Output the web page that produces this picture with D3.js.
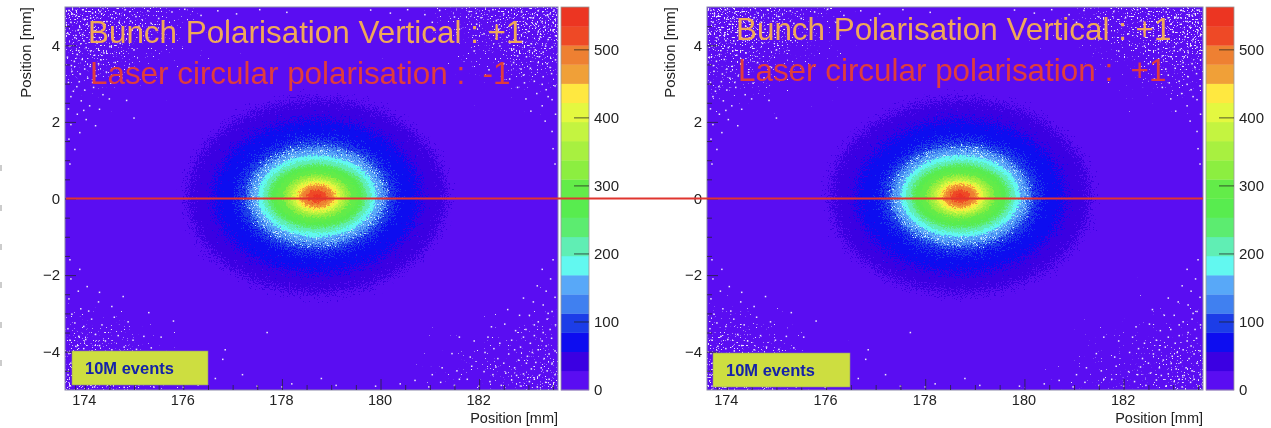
<!DOCTYPE html>
<html><head><meta charset="utf-8">
<script src="https://cdnjs.cloudflare.com/ajax/libs/d3/7.8.5/d3.min.js"></script>
<style>html,body{margin:0;padding:0;background:#fff}svg{display:block}text{font-family:"Liberation Sans",Arial,sans-serif}</style>
</head><body><svg id="c" width="1271" height="428"></svg>
<script>
const xDomain = [173.6, 183.6], yDomain = [-5, 5], zDomain = [0, 563];
const xMajor = [174, 176, 178, 180, 182];
const xMinor = [174.5,175,175.5,176.5,177,177.5,178.5,179,179.5,180.5,181,181.5,182.5,183,183.5,173.8];
const yMajor = [-4, -2, 0, 2, 4];
const yMinor = [-4.5,-3.5,-3,-2.5,-1.5,-1,-0.5,0.5,1,1.5,2.5,3,3.5,4.5];
const zMajor = [0, 100, 200, 300, 400, 500];
const bandColors = ["#5A10F2","#3A02E2","#0A08F0","#1A3CE8","#3F80F0","#58A8F8","#62F8F0","#60EEB4","#5CEC70","#58EC50","#64EC48","#8CEE40","#A8F040","#C4F440","#E4F840","#FFE840","#F0A038","#EE8030","#EE4A28","#EC3420"];
const centerX = 178.71, centerY = 0.06;
const profileValues = [42,70,99,127,155,183,211,239,267,295,324,352,380,408,436,464,492,520,549];
const profileA = [2.62,2.1,1.6,1.42,1.32,1.2,1.1,1.0,0.93,0.82,0.68,0.6,0.53,0.47,0.41,0.36,0.3,0.2,0.08];
const profileB = [2.52,2.0,1.5,1.32,1.19,1.07,0.96,0.85,0.78,0.68,0.57,0.5,0.45,0.4,0.36,0.31,0.26,0.17,0.06];
const specksTL = [[173.68,4.91],[173.83,4.78],[173.97,4.93],[174.12,4.71],[174.31,4.88],[174.45,4.62],[174.63,4.84],[174.82,4.93],[175.04,4.75],[175.28,4.9],[175.5,4.7],[175.77,4.87],[176.03,4.94],[176.36,4.78],[176.7,4.9],[177.08,4.82],[177.55,4.93],[178.1,4.86],[173.72,4.6],[173.9,4.47],[174.05,4.55],[174.22,4.38],[174.38,4.5],[174.58,4.29],[174.77,4.42],[175.1,4.5],[173.66,4.31],[173.8,4.2],[173.96,4.28],[174.14,4.11],[174.3,4.2],[174.51,3.97],[174.72,4.05],[175.0,3.88],[173.7,3.98],[173.88,3.86],[174.03,3.94],[174.2,3.74],[174.39,3.8],[174.62,3.55],[174.9,3.42],[173.65,3.69],[173.79,3.58],[173.95,3.63],[174.11,3.45],[174.28,3.52],[174.44,3.3],[174.75,3.15],[173.74,3.32],[173.91,3.25],[174.06,3.14],[174.23,3.2],[174.53,3.01],[173.67,3.03],[173.84,2.92],[174.0,2.83],[174.18,2.9],[174.37,2.71],[174.85,2.56],[173.72,2.66],[173.93,2.55],[174.1,2.42],[174.3,2.33],[175.0,2.1],[173.67,2.34],[173.85,2.2],[174.03,2.06],[174.22,1.9],[173.72,1.93],[173.9,1.72],[173.68,1.55],[173.8,1.28],[173.7,0.9],[174.55,4.72],[174.93,4.63],[175.35,4.57],[175.62,4.42],[176.2,4.6],[176.9,4.66],[174.7,4.6],[174.16,4.84],[173.75,4.82],[174.0,4.68],[174.28,4.6],[173.87,4.4],[173.98,4.12],[174.42,4.14],[174.12,3.85],[173.85,3.76],[174.33,3.62],[173.73,3.47],[174.0,3.38],[173.89,3.05],[174.16,3.03],[173.77,2.8],[174.5,2.6],[173.98,2.3]];
const specksTR = [[183.52,4.92],[183.38,4.78],[183.2,4.9],[183.05,4.72],[182.86,4.87],[182.7,4.6],[182.5,4.82],[182.28,4.93],[182.04,4.72],[181.8,4.88],[181.5,4.74],[181.2,4.91],[180.9,4.8],[180.55,4.93],[180.2,4.84],[179.8,4.92],[183.5,4.6],[183.33,4.48],[183.16,4.55],[183.0,4.36],[182.8,4.46],[182.6,4.25],[182.4,4.42],[182.1,4.3],[183.55,4.25],[183.4,4.15],[183.24,4.22],[183.06,4.04],[182.88,4.1],[182.7,3.9],[182.42,3.98],[183.48,3.95],[183.3,3.82],[183.14,3.88],[182.96,3.7],[182.78,3.72],[182.5,3.52],[183.55,3.62],[183.38,3.52],[183.2,3.55],[183.04,3.4],[182.85,3.38],[182.62,3.12],[183.47,3.26],[183.3,3.18],[183.12,3.06],[182.92,3.02],[183.54,2.94],[183.36,2.84],[183.17,2.74],[182.95,2.6],[183.48,2.58],[183.28,2.42],[183.05,2.28],[183.55,2.2],[183.34,2.02],[183.48,1.75],[183.5,1.3],[183.54,0.9],[182.9,4.72],[182.35,4.64],[181.95,4.55],[181.6,4.42],[181.05,4.6],[180.4,4.66],[183.1,4.72],[183.44,4.82],[183.28,4.62],[182.96,4.56],[183.5,4.38],[183.2,4.35],[182.74,4.12],[183.35,3.98],[183.02,3.86],[183.22,3.7],[182.7,3.55],[183.44,3.42],[182.9,3.22],[183.28,2.98],[183.4,2.66],[182.78,2.9],[181.9,3.85],[182.2,3.36]];
const specksBL = [[173.7,-4.9],[173.9,-4.82],[174.2,-4.92],[174.5,-4.85],[174.8,-4.93],[175.1,-4.86],[175.4,-4.92],[175.7,-4.84],[176.0,-4.93],[176.3,-4.87],[173.66,-4.6],[173.72,-4.3],[173.68,-4.05],[173.82,-3.86],[173.98,-3.92],[174.15,-3.98],[174.3,-3.84],[174.55,-3.95],[174.8,-3.88],[175.05,-3.94],[175.35,-3.9],[173.7,-3.7],[173.88,-3.6],[174.02,-3.68],[174.22,-3.55],[174.42,-3.72],[174.68,-3.58],[174.98,-3.7],[175.2,-3.6],[173.66,-3.4],[173.8,-3.25],[173.98,-3.34],[174.14,-3.15],[174.35,-3.3],[174.6,-3.1],[174.88,-3.22],[175.55,-3.62],[173.74,-3.02],[173.92,-2.88],[174.08,-2.94],[174.28,-2.7],[174.55,-2.82],[174.78,-2.56],[175.3,-2.98],[173.68,-2.62],[173.87,-2.42],[174.05,-2.3],[174.3,-2.45],[173.72,-2.1],[173.9,-1.85],[173.7,-1.6],[176.8,-4.2],[177.2,-4.6],[176.85,-3.95],[175.8,-3.2],[176.65,-4.7],[177.5,-4.9],[178.2,-4.84],[178.0,-4.92],[179.1,-4.88],[179.9,-4.9],[180.4,-4.84],[178.8,-4.7],[177.7,-3.5]];
const specksBR = [[183.5,-4.9],[183.35,-4.8],[183.18,-4.92],[183.02,-4.78],[182.85,-4.9],[182.66,-4.74],[182.45,-4.88],[182.22,-4.78],[182.0,-4.9],[181.76,-4.72],[181.5,-4.88],[181.22,-4.8],[180.98,-4.92],[180.7,-4.75],[183.54,-4.6],[183.38,-4.5],[183.22,-4.62],[183.06,-4.45],[182.9,-4.58],[182.72,-4.42],[182.54,-4.56],[182.34,-4.4],[182.1,-4.52],[181.85,-4.38],[181.55,-4.5],[181.25,-4.42],[183.48,-4.3],[183.32,-4.18],[183.15,-4.28],[182.98,-4.12],[182.8,-4.22],[182.6,-4.06],[182.38,-4.18],[182.12,-4.02],[181.82,-4.14],[181.45,-4.05],[183.54,-3.98],[183.36,-3.85],[183.2,-3.95],[183.04,-3.78],[182.84,-3.88],[182.66,-3.7],[182.42,-3.78],[182.18,-3.62],[181.9,-3.72],[181.6,-3.62],[183.47,-3.65],[183.3,-3.5],[183.12,-3.58],[182.95,-3.42],[182.74,-3.45],[182.52,-3.28],[182.25,-3.35],[183.55,-3.3],[183.38,-3.15],[183.2,-3.22],[183.02,-3.05],[182.82,-3.05],[182.58,-2.9],[183.48,-2.95],[183.3,-2.78],[183.1,-2.7],[182.9,-2.6],[183.54,-2.58],[183.36,-2.42],[183.18,-2.28],[183.45,-2.1],[183.28,-1.85],[183.5,-1.6],[183.42,-4.72],[183.12,-4.72],[182.76,-4.62],[182.28,-4.6],[183.26,-4.42],[182.96,-4.3],[182.5,-4.3],[183.42,-4.06],[183.08,-4.02],[182.72,-3.95],[183.28,-3.72],[182.9,-3.62],[183.44,-3.42],[183.12,-3.3],[183.4,-3.0],[182.3,-3.92],[181.6,-4.72],[181.05,-4.6]];
const leftEdgeY = [168, 208, 247, 285, 325, 363];
const cornerShades = [
  {cx:173.6, cy:5, rx:4.8, ry:4.0},
  {cx:183.6, cy:5, rx:4.8, ry:4.0},
  {cx:173.6, cy:-5, rx:4.0, ry:3.6},
  {cx:183.6, cy:-5, rx:4.6, ry:3.9},
  {cx:173.6, cy:5, rx:3.0, ry:2.6},
  {cx:183.6, cy:5, rx:3.0, ry:2.6},
  {cx:173.6, cy:-5, rx:2.4, ry:2.6}
];
const panels = [
  {x0:65, x1:558, barX0:561, barX1:589, labelX:27, seed:3, title2:"Laser circular polarisation :  -1", t1x:88, t1y:43, t2x:90, t2y:84, boxX:72, boxX1:208, boxY:351, boxY1:385, boxTx:85},
  {x0:707, x1:1203, barX0:1206, barX1:1234, labelX:671, seed:11, title2:"Laser circular polarisation :  +1", t1x:736, t1y:40, t2x:738, t2y:81, boxX:713, boxX1:850, boxY:353, boxY1:387, boxTx:726}
];
const title1 = "Bunch Polarisation Vertical : +1";
const boxLabel = "10M events", axisLabel = "Position [mm]";
const plotTop = 7, plotBottom = 390;

const svg = d3.select("#c");
const defs = svg.append("defs");
function newFilter(id){
  return defs.append("filter").attr("id",id).attr("x","-15%").attr("y","-15%").attr("width","130%").attr("height","130%").attr("color-interpolation-filters","sRGB");
}
function dispFilter(id, freq, scale, seed){
  const f = newFilter(id);
  f.append("feTurbulence").attr("type","fractalNoise").attr("baseFrequency",freq).attr("numOctaves",2).attr("seed",seed).attr("result","n");
  f.append("feDisplacementMap").attr("in","SourceGraphic").attr("in2","n").attr("scale",scale).attr("xChannelSelector","R").attr("yChannelSelector","G");
}
function grainFilter(id, seed){
  const f = newFilter(id);
  f.append("feTurbulence").attr("type","fractalNoise").attr("baseFrequency",0.8).attr("numOctaves",2).attr("seed",seed).attr("result","n");
  f.append("feColorMatrix").attr("in","n").attr("type","matrix").attr("values","0 0 0 0 0.78  0 0 0 0 0.92  0 0 0 0 1  8 0 0 0 -4.6").attr("result","t");
  f.append("feComposite").attr("in","t").attr("in2","SourceAlpha").attr("operator","in").attr("result","c");
  f.append("feDisplacementMap").attr("in","c").attr("in2","n").attr("scale",22).attr("xChannelSelector","R").attr("yChannelSelector","G");
}
function speckleFilter(id, seed){
  const f = newFilter(id);
  f.append("feTurbulence").attr("type","fractalNoise").attr("baseFrequency",0.62).attr("numOctaves",1).attr("seed",seed).attr("result","n");
  f.append("feColorMatrix").attr("in","n").attr("type","matrix").attr("values","0 0 0 0 0  0 0 0 0 0  0 0 0 0 0  1 0 0 0 0").attr("result","a");
  f.append("feComposite").attr("in","a").attr("in2","SourceAlpha").attr("operator","arithmetic").attr("k1",0).attr("k2",1).attr("k3",0.3).attr("k4",0).attr("result","m");
  f.append("feComponentTransfer").attr("in","m").attr("result","th").append("feFuncA").attr("type","linear").attr("slope",14).attr("intercept",-12.3);
  f.append("feFlood").attr("flood-color","#EDE2FA").attr("result","fl");
  f.append("feComposite").attr("in","fl").attr("in2","th").attr("operator","in");
}
defs.append("filter").attr("id","soft").attr("x","-2%").attr("y","-2%").attr("width","104%").attr("height","104%").append("feGaussianBlur").attr("stdDeviation",0.45);
defs.append("filter").attr("id","softer").attr("x","-5%").attr("y","-20%").attr("width","110%").attr("height","140%").append("feGaussianBlur").attr("stdDeviation",0.35);
const grad = defs.append("radialGradient").attr("id","cornerFade");
grad.append("stop").attr("offset",0).attr("stop-color","#fff").attr("stop-opacity",0.9);
grad.append("stop").attr("offset",0.55).attr("stop-color","#fff").attr("stop-opacity",0.5);
grad.append("stop").attr("offset",1).attr("stop-color","#fff").attr("stop-opacity",0);

const color = d3.scaleQuantize().domain(zDomain).range(bandColors);
const y = d3.scaleLinear().domain(yDomain).range([plotBottom, plotTop]);
const z = d3.scaleLinear().domain(zDomain).range([plotBottom, plotTop]);
const levels = profileValues.map((v,i)=>({v, a:profileA[i], b:profileB[i]}));
const specks = [...specksTL, ...specksTR, ...specksBL, ...specksBR];
const bandStep = zDomain[1]/bandColors.length;

panels.forEach((p,pi)=>{
  const x = d3.scaleLinear().domain(xDomain).range([p.x0,p.x1]);
  const clipId = "clip"+pi;
  defs.append("clipPath").attr("id",clipId).append("rect").attr("x",p.x0).attr("y",plotTop).attr("width",p.x1-p.x0).attr("height",plotBottom-plotTop);
  dispFilter("dOuter"+pi,0.85,38,p.seed);
  dispFilter("dMid"+pi,0.8,20,p.seed+1);
  dispFilter("dInner"+pi,0.6,8,p.seed+2);
  grainFilter("grain"+pi,p.seed+3);
  speckleFilter("speck"+pi,p.seed+4);

  const root = svg.append("g").attr("filter","url(#soft)");
  const plot = root.append("g").attr("clip-path",`url(#${clipId})`);
  plot.append("rect").attr("x",p.x0).attr("y",plotTop).attr("width",p.x1-p.x0).attr("height",plotBottom-plotTop).attr("fill",bandColors[0]);
  const shade = plot.append("g").attr("filter",`url(#speck${pi})`);
  shade.append("rect").attr("x",p.x0).attr("y",plotTop).attr("width",p.x1-p.x0).attr("height",plotBottom-plotTop).attr("fill","#000").attr("fill-opacity",0.004);
  shade.selectAll("ellipse").data(cornerShades).join("ellipse")
    .attr("cx",d=>x(d.cx)).attr("cy",d=>y(d.cy))
    .attr("rx",d=>Math.abs(x(d.cx+d.rx)-x(d.cx))).attr("ry",d=>Math.abs(y(d.cy)-y(d.cy+d.ry)))
    .attr("fill","url(#cornerFade)");
  plot.append("g").selectAll("rect").data(specks).join("rect")
    .attr("x",d=>x(d[0])-0.75).attr("y",d=>y(d[1])-0.75).attr("width",1.5).attr("height",1.5).attr("fill","#EFE4FA");

  const cx = x(centerX), cy = y(centerY);
  const ell = (sel, ls) => sel.selectAll("ellipse").data(ls).join("ellipse")
    .attr("cx",cx).attr("cy",cy)
    .attr("rx",d=>x(centerX+d.a)-cx).attr("ry",d=>cy-y(centerY+d.b))
    .attr("fill",d=>color(d.v));
  ell(plot.append("g").attr("filter",`url(#dOuter${pi})`), levels.slice(0,3));
  ell(plot.append("g").attr("filter",`url(#dMid${pi})`), levels.slice(3,5));
  plot.append("ellipse").attr("cx",cx).attr("cy",cy)
    .attr("rx",x(centerX+profileA[3])-cx).attr("ry",cy-y(centerY+profileB[3]))
    .attr("fill","#fff").attr("filter",`url(#grain${pi})`);
  ell(plot.append("g").attr("filter",`url(#dInner${pi})`), levels.slice(5));

  // colour bar
  const bar = root.append("g");
  bar.selectAll("rect").data(bandColors).join("rect")
    .attr("x",p.barX0).attr("width",p.barX1-p.barX0)
    .attr("y",(d,i)=>z((i+1)*bandStep)).attr("height",(d,i)=>z(i*bandStep)-z((i+1)*bandStep)+0.3)
    .attr("fill",d=>d);
  root.append("rect").attr("x",p.barX0).attr("y",plotTop).attr("width",p.barX1-p.barX0).attr("height",plotBottom-plotTop).attr("fill","none").attr("stroke","#9a9a9a").attr("stroke-width",0.8);

  const zAxis = d3.axisRight(z).tickValues(zMajor).tickFormat(d3.format("d")).tickSize(0).tickPadding(0);
  const zg = root.append("g").attr("transform",`translate(${p.barX1+5},0)`).call(zAxis);
  zg.select(".domain").remove();
  zg.selectAll("text").attr("font-size",15).attr("fill","#222").attr("font-family","Liberation Sans");
  root.append("g").selectAll("line").data(zMajor.slice(1)).join("line")
    .attr("x1",p.barX1-15).attr("x2",p.barX1).attr("y1",d=>z(d)).attr("y2",d=>z(d)).attr("stroke","#222").attr("stroke-width",1).attr("stroke-opacity",0.75);

  // frame & axes
  root.append("rect").attr("x",p.x0).attr("y",plotTop).attr("width",p.x1-p.x0).attr("height",plotBottom-plotTop).attr("fill","none").attr("stroke","#8a88a8").attr("stroke-width",1);
  const xa = root.append("g").attr("transform",`translate(0,${plotBottom})`)
    .call(d3.axisBottom(x).tickValues(xMajor).tickFormat(d3.format("d")).tickSize(-11).tickPadding(6));
  xa.select(".domain").remove();
  xa.selectAll("line").attr("stroke","#222").attr("stroke-opacity",0.7);
  xa.selectAll("text").attr("font-size",14.5).attr("fill","#222").attr("dy","0.9em").attr("font-family","Liberation Sans").attr("transform","translate(-1,-4)");
  const xm = root.append("g").attr("transform",`translate(0,${plotBottom})`)
    .call(d3.axisBottom(x).tickValues(xMinor).tickFormat("").tickSize(-5));
  xm.select(".domain").remove();
  xm.selectAll("line").attr("stroke","#222").attr("stroke-opacity",0.7);
  const ya = root.append("g").attr("transform",`translate(${p.x0},0)`)
    .call(d3.axisLeft(y).tickValues(yMajor).tickFormat(d=>d<0?"\u2212"+Math.abs(d):String(d)).tickSize(-11).tickPadding(5));
  ya.select(".domain").remove();
  ya.selectAll("line").attr("stroke","#222").attr("stroke-opacity",0.7);
  ya.selectAll("text").attr("font-size",15).attr("fill","#222").attr("font-family","Liberation Sans");
  const ym = root.append("g").attr("transform",`translate(${p.x0},0)`)
    .call(d3.axisLeft(y).tickValues(yMinor).tickFormat("").tickSize(-5));
  ym.select(".domain").remove();
  ym.selectAll("line").attr("stroke","#222").attr("stroke-opacity",0.7);

  root.append("text").attr("x",p.x1).attr("y",423).attr("text-anchor","end").attr("font-size",14.5).attr("fill","#222").text(axisLabel);
  root.append("text").attr("transform",`translate(${p.labelX+4},${plotTop}) rotate(-90)`).attr("text-anchor","end").attr("font-size",15).attr("fill","#222").text(axisLabel);

  // annotations
  const ann = svg.append("g").attr("filter","url(#softer)");
  ann.append("text").attr("x",p.t1x).attr("y",p.t1y).attr("font-size",31.4).attr("fill","#F0A858").text(title1);
  ann.append("text").attr("x",p.t2x).attr("y",p.t2y).attr("font-size",31.4).attr("fill","#E03C3C").attr("xml:space","preserve").style("white-space","pre").text(p.title2);
  ann.append("rect").attr("x",p.boxX).attr("y",p.boxY).attr("width",p.boxX1-p.boxX).attr("height",p.boxY1-p.boxY).attr("fill","#CDDE40").attr("stroke","#8f8f7a").attr("stroke-width",0.6);
  ann.append("text").attr("x",p.boxTx).attr("y",p.boxY+23).attr("font-size",16.5).attr("font-weight","bold").attr("fill","#1222A8").text(boxLabel);
});

// horizontal rule joining the two panels at zero
svg.append("line").attr("x1",panels[0].x0+1).attr("x2",panels[1].x1).attr("y1",y(0)).attr("y2",y(0)).attr("stroke","#E0352F").attr("stroke-width",1.8);
svg.append("g").selectAll("rect").data(leftEdgeY).join("rect").attr("x",0).attr("y",d=>d-3).attr("width",2).attr("height",6).attr("fill","#cccccc");
</script></body></html>
